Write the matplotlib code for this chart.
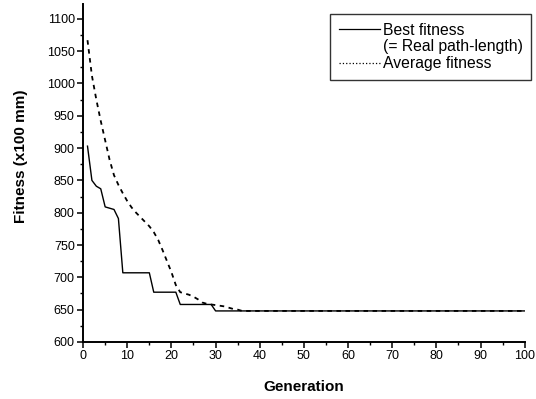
import numpy as np
import matplotlib
matplotlib.use('Agg')
import matplotlib.pyplot as plt
from matplotlib.lines import Line2D
from matplotlib.ticker import MultipleLocator

plt.rcParams['font.family'] = ['Liberation Sans', 'DejaVu Sans']

# values
generations = list(range(1, 101))
best_fitness = ([903, 850, 841, 837, 809, 807, 805, 791]
                + [707] * 7
                + [677] * 6
                + [658] * 8
                + [648] * 71)
avg_fitness = ([1067, 1012, 975, 942, 912, 882, 858, 843, 830, 818,
                808, 800, 793, 786, 779, 770, 758, 742, 725, 708,
                688, 677, 675, 673, 670, 666, 661, 659, 658, 657,
                656, 655, 653, 651, 650]
               + [648] * 65)

legend_labels = ['Best fitness', '(= Real path-length)', 'Average fitness']

fig = plt.figure(figsize=(5.36, 3.99), dpi=100)
ax = fig.add_axes([0.155, 0.143, 0.824, 0.847])

ax.plot(generations, best_fitness, color='black', lw=1.0, ls='-')
ax.plot(generations, avg_fitness, color='black', lw=1.3, ls=(0, (2.5, 2.5)))

ax.set_xlim(0, 100)
ax.set_ylim(600, 1123)
ax.xaxis.set_major_locator(MultipleLocator(10))
ax.xaxis.set_minor_locator(MultipleLocator(5))
ax.yaxis.set_major_locator(MultipleLocator(50))
ax.yaxis.set_minor_locator(MultipleLocator(25))
ax.set_yticks(np.arange(600, 1101, 50))

for s in ['top', 'right']:
    ax.spines[s].set_visible(False)
for s in ['left', 'bottom']:
    ax.spines[s].set_linewidth(1.4)

ax.tick_params(which='major', direction='out', length=4, width=1.1, labelsize=9, pad=2)
ax.tick_params(which='minor', direction='out', length=2.5, width=1.0)

ax.set_xlabel('Generation', fontsize=11, fontweight='bold')
ax.set_ylabel('Fitness (x100 mm)', fontsize=11, fontweight='bold')
ax.xaxis.set_label_coords(0.5, -0.112)
ax.yaxis.set_label_coords(-0.125, 0.55)

handles = [Line2D([], [], color='black', lw=0.9, ls='-'),
           Line2D([], [], color='none'),
           Line2D([], [], color='black', lw=0.9, ls=':')]
leg = fig.legend(handles, legend_labels, loc='upper left',
                 bbox_to_anchor=(0.616, 0.965), fontsize=11.3,
                 frameon=True, fancybox=False, edgecolor='black',
                 handlelength=2.6, handletextpad=0.2, borderpad=0.55,
                 labelspacing=0.12, borderaxespad=0)
leg.get_frame().set_linewidth(1.0)

fig.savefig('out.png', dpi=100)
